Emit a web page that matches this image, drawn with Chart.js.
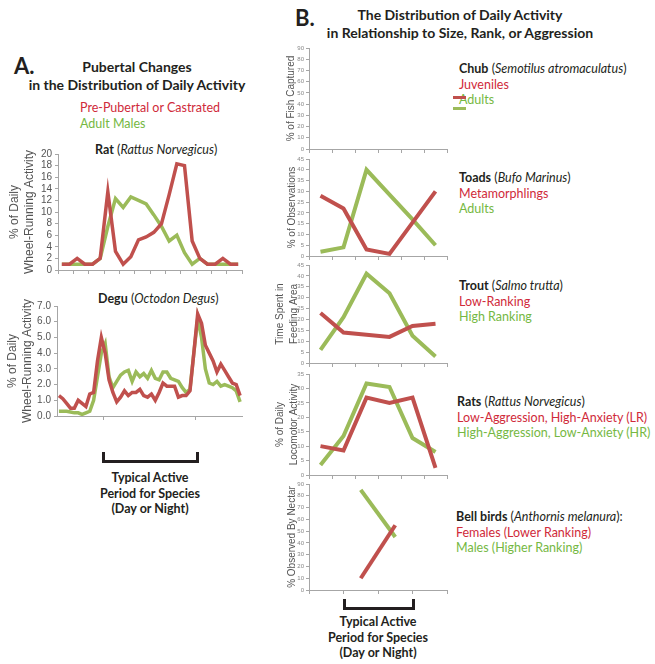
<!DOCTYPE html>
<html>
<head>
<meta charset="utf-8">
<script src="https://cdn.jsdelivr.net/npm/chart.js@4.4.0/dist/chart.umd.min.js"></script>
<style>
body { margin: 0; width: 655px; height: 664px; background: #fff; position: relative; overflow: hidden; color: #231f20; }
.t { position: absolute; white-space: nowrap; font-family: Lato, 'Open Sans', sans-serif; }
.head { font-weight: bold; font-size: 14px; line-height: 18px; text-align: center; }
.big { font-weight: bold; font-size: 22px; line-height: 26px; }
.lab { font-size: 12.5px; line-height: 15.5px; }
.lab b { font-weight: bold; }
.red { color: #d02a3a; }
.green { color: #75b843; }
.brk { position: absolute; box-sizing: border-box; border: 3px solid #231f20; border-top: none; }
.sw { position: absolute; width: 13px; height: 3px; }
canvas { position: absolute; }
</style>
</head>
<body>

<div class="t big" style="left:14px; top:53px;">A.</div>
<div class="t head" style="left:0; width:274px; top:58px;">Pubertal Changes<br>in the Distribution of Daily Activity</div>
<div class="t lab" style="left:80px; top:100px;"><span class="red">Pre-Pubertal or Castrated</span><br><span class="green">Adult Males</span></div>
<div class="t lab" style="left:95px; top:142px;"><b>Rat</b> (<i>Rattus Norvegicus</i>)</div>
<div class="t lab" style="left:98px; top:291px;"><b>Degu</b> (<i>Octodon Degus</i>)</div>

<div class="brk" style="left:102px; top:452px; width:97px; height:11px;"></div>
<div class="t lab" style="left:50px; width:200px; top:470px; text-align:center; font-weight:bold;">Typical Active<br>Period for Species<br>(Day or Night)</div>

<div class="t big" style="left:295px; top:5px;">B.</div>
<div class="t head" style="left:310px; width:300px; top:6px;">The Distribution of Daily Activity<br>in Relationship to Size, Rank, or Aggression</div>

<div class="t lab" style="left:459px; top:61px;"><b>Chub</b> (<i>Semotilus atromaculatus</i>)<br><span class="red">Juveniles</span><br><span class="green">Adults</span></div>
<div class="sw" style="left:453px; top:96px; background:#c0504d;"></div>
<div class="sw" style="left:453px; top:107px; background:#9bbb59;"></div>
<div class="t lab" style="left:459px; top:170px;"><b>Toads</b> (<i>Bufo Marinus</i>)<br><span class="red">Metamorphlings</span><br><span class="green">Adults</span></div>
<div class="t lab" style="left:459px; top:278px;"><b>Trout</b> (<i>Salmo trutta</i>)<br><span class="red">Low-Ranking</span><br><span class="green">High Ranking</span></div>
<div class="t lab" style="left:457px; top:394px;"><b>Rats</b> (<i>Rattus Norvegicus</i>)<br><span class="red">Low-Aggression, High-Anxiety (LR)</span><br><span class="green">High-Aggression, Low-Anxiety (HR)</span></div>
<div class="t lab" style="left:456px; top:509px;"><b>Bell birds</b> (<i>Anthornis melanura</i>):<br><span class="red">Females (Lower Ranking)</span><br><span class="green">Males (Higher Ranking)</span></div>

<div class="brk" style="left:343px; top:599px; width:72px; height:11px;"></div>
<div class="t lab" style="left:278px; width:200px; top:614px; text-align:center; font-weight:bold;">Typical Active<br>Period for Species<br>(Day or Night)</div>

<canvas id="rat"></canvas>
<canvas id="degu"></canvas>
<canvas id="chub"></canvas>
<canvas id="toads"></canvas>
<canvas id="trout"></canvas>
<canvas id="rats"></canvas>
<canvas id="bell"></canvas>

<script>
const red = '#c0504d';
const green = '#9bbb59';
const axisGray = '#a6a6a6';

// Panel A - hourly wheel running (24 bins) for rat
const ratPrePubertal = [1, 1, 2, 1, 1, 2, 13.5, 3.2, 1, 2.3, 5.2, 5.7, 6.5, 8, 13, 18.3, 18, 5, 2, 1, 1, 2, 1, 1];
const ratAdult = [1, 1, 1, 1, 1, 2, 7.5, 12.3, 10.8, 12.6, 12, 11.4, 9.5, 7.5, 5, 6, 3, 1, 2, 1, 1, 1, 1, 1];

// Panel A - half-hourly wheel running (48 bins) for degu
const deguPrePubertal = [1.3, 1.1, 0.8, 0.5, 0.5, 1.0, 0.8, 0.6, 1.4, 1.5, 3.5, 5.0, 4.0, 2.3, 1.5, 0.9,
  1.2, 1.6, 1.3, 1.5, 1.5, 1.7, 1.3, 1.2, 1.4, 1.0, 1.5, 2.1, 1.9, 1.9, 1.9, 1.2,
  1.3, 1.3, 1.6, 4.0, 6.5, 5.9, 4.5, 4.0, 3.5, 2.8, 3.3, 2.9, 2.5, 2.1, 2.0, 1.3];
const deguAdult = [0.3, 0.3, 0.3, 0.25, 0.2, 0.2, 0.1, 0.2, 0.3, 1.0, 2.5, 4.0, 4.6, 2.5, 1.8, 2.2,
  2.6, 2.8, 2.9, 2.2, 2.8, 2.5, 2.7, 2.4, 2.9, 2.4, 2.3, 2.8, 2.8, 2.4, 2.3, 2.2,
  1.8, 1.5, 1.7, 4.0, 6.2, 5.0, 3.0, 2.1, 2.0, 2.2, 1.9, 2.0, 1.9, 1.8, 1.6, 0.9];

// Panel B - six phases of the day
const periodBins = ['1', '2', '3', '4', '5', '6'];
const chubJuveniles = [null, null, null, null, null, null];
const chubAdults = [null, null, null, null, null, null];
const toadMetamorphlings = [28, 22, 3, 1, 15.5, 30];
const toadAdults = [2, 4, 40, 28.5, 17, 5];
const troutLowRanking = [23, 14, 13, 12, 17, 18];
const troutHighRanking = [6, 21, 41, 32, 12.5, 3];
const ratsLR = [10, 8.5, 26.8, 25, 26.8, 2.5];
const ratsHR = [3.5, 13.5, 31.7, 30.5, 12.8, 8];

// bell birds - four phases
const bellBins = ['1', '2', '3', '4'];
const bellFemales = [null, 10, 55, null];
const bellMales = [null, 85, 45, null];

const toXY = arr => arr.map((v, i) => ({ x: i, y: v }));

function makeChart(id, box, data, xScale, y) {
    const c = document.getElementById(id);
    c.width = box.w;
    c.height = box.h;
    c.style.left = box.left + 'px';
    c.style.top = box.top + 'px';
    return new Chart(c.getContext('2d'), {
        type: 'line',
        data: data,
        options: {
            responsive: false,
            animation: false,
            layout: { padding: { top: 6, right: box.padRight, left: 0, bottom: 0 } },
            plugins: { legend: { display: false }, tooltip: { enabled: false } },
            elements: { point: { radius: 0 }, line: { tension: 0 } },
            scales: {
                x: xScale,
                y: {
                    min: y.min,
                    max: y.max,
                    ticks: {
                        stepSize: y.step,
                        autoSkip: false,
                        padding: y.tickPad,
                        color: y.tickColor,
                        font: { family: 'Liberation Sans', size: y.tickSize },
                        callback: y.fmt || (v => v)
                    },
                    grid: { drawOnChartArea: false, tickLength: 3, color: axisGray },
                    border: { color: axisGray },
                    title: {
                        display: true,
                        text: y.title,
                        color: '#555',
                        font: { family: 'Liberation Sans', size: y.titleSize, lineHeight: y.titleLH },
                        padding: { top: y.titlePad, bottom: 0 }
                    },
                    afterFit: s => { s.width = y.width; }
                }
            }
        }
    });
}

function hourAxis(max, tickPos) {
    return {
        type: 'linear',
        min: -0.5,
        max: max,
        ticks: { display: false },
        afterBuildTicks: s => { s.ticks = tickPos.map(v => ({ value: v })); },
        grid: { drawOnChartArea: false, tickLength: 4, color: axisGray },
        border: { color: axisGray },
        afterFit: s => { s.height = 8; }
    };
}

function phaseAxis() {
    return {
        type: 'category',
        offset: true,
        ticks: { display: false },
        grid: { offset: true, drawOnChartArea: false, tickLength: 4, color: axisGray },
        border: { color: axisGray },
        afterFit: s => { s.height = 6; }
    };
}

function series(a, b, width) {
    return [
        { data: a, borderColor: red, borderWidth: width, fill: false },
        { data: b, borderColor: green, borderWidth: width, fill: false }
    ];
}

// Rat
makeChart('rat', { left: 0, top: 145, w: 250, h: 134, padRight: 8 },
    { datasets: series(toXY(ratPrePubertal), toXY(ratAdult), 3.5) },
    hourAxis(23.5, [-0.5, 1.5, 3.5, 5.5, 7.5, 9.5, 11.5, 13.5, 15.5, 17.5, 19.5, 21.5, 23.5]),
    { min: 0, max: 20, step: 2, tickSize: 10, tickPad: 3, tickColor: '#555', width: 58,
      title: ['% of Daily', 'Wheel-Running Activity'], titleSize: 12, titleLH: 1.25, titlePad: 7 });

// Degu
makeChart('degu', { left: 0, top: 297, w: 250, h: 128, padRight: 8 },
    { datasets: series(toXY(deguPrePubertal), toXY(deguAdult), 3.5) },
    hourAxis(47.5, [11.5, 35.5]),
    { min: 0, max: 7, step: 1, tickSize: 10, tickPad: 3, tickColor: '#555', width: 57,
      fmt: v => v.toFixed(1),
      title: ['% of Daily', 'Wheel-Running Activity'], titleSize: 12, titleLH: 1.25, titlePad: 5.5 });

const bY = { tickSize: 6, tickPad: 2, tickColor: '#888', width: 41, titleSize: 10, titleLH: 1.4 };

// Chub
makeChart('chub', { left: 268, top: 42, w: 185, h: 113, padRight: 6 },
    { labels: periodBins, datasets: series(chubJuveniles, chubAdults, 4) },
    phaseAxis(),
    Object.assign({}, bY, { min: 0, max: 90, step: 10, title: '% of Fish Captured', titlePad: 16 }));

// Toads
makeChart('toads', { left: 268, top: 153, w: 185, h: 109, padRight: 6 },
    { labels: periodBins, datasets: series(toadMetamorphlings, toadAdults, 4) },
    phaseAxis(),
    Object.assign({}, bY, { min: 0, max: 45, step: 5, title: '% of Observations', titlePad: 17 }));

// Trout
makeChart('trout', { left: 268, top: 259, w: 185, h: 110, padRight: 6 },
    { labels: periodBins, datasets: series(troutLowRanking, troutHighRanking, 4) },
    phaseAxis(),
    Object.assign({}, bY, { min: 0, max: 45, step: 5, title: ['Time Spent in', 'Feeding Area'], titlePad: 5 }));

// Rats
makeChart('rats', { left: 268, top: 368, w: 185, h: 113, padRight: 6 },
    { labels: periodBins, datasets: series(ratsLR, ratsHR, 4) },
    phaseAxis(),
    Object.assign({}, bY, { min: 0, max: 35, step: 5, title: ['% of Daily', 'Locomotor Activity'], titlePad: 5 }));

// Bell birds
makeChart('bell', { left: 268, top: 478, w: 185, h: 118, padRight: 6 },
    { labels: bellBins, datasets: series(bellFemales, bellMales, 4) },
    phaseAxis(),
    Object.assign({}, bY, { min: 0, max: 90, step: 10, title: '% Observed By Nectar', titlePad: 17 }));
</script>
</body>
</html>
